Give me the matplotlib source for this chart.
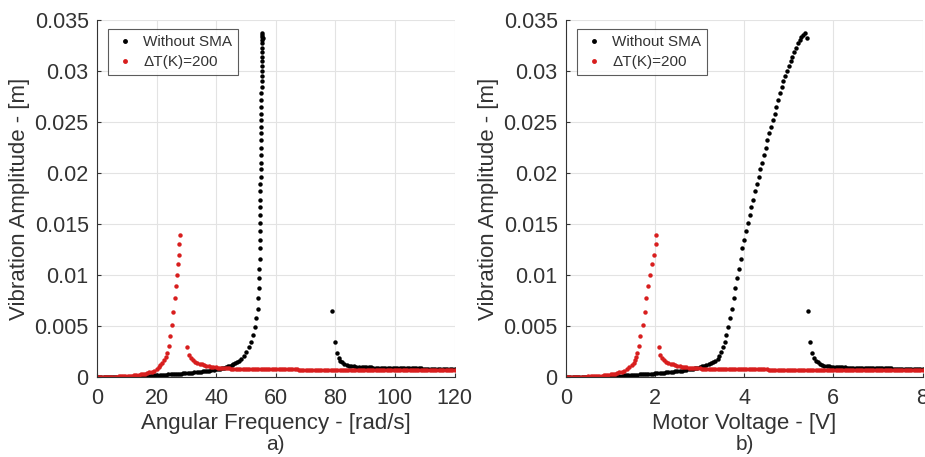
import matplotlib
matplotlib.use("Agg")
import matplotlib.pyplot as plt
from matplotlib.ticker import FuncFormatter

plt.rcParams['font.family'] = ['Liberation Sans', 'DejaVu Sans']

# ================= "Without SMA" (black) =================
black_voltage = [
    0.00, 0.05, 0.10, 0.15, 0.20, 0.25, 0.30, 0.35, 0.40, 0.45, 0.50, 0.55, 0.60, 0.65, 0.70, 0.75, 0.80, 0.85,
    0.90, 0.95, 1.00, 1.05, 1.10, 1.15, 1.20, 1.25, 1.30, 1.35, 1.40, 1.45, 1.50, 1.55, 1.60, 1.65, 1.70, 1.75,
    1.80, 1.85, 1.90, 1.95, 2.00, 2.05, 2.10, 2.15, 2.20, 2.25, 2.30, 2.35, 2.40, 2.45, 2.50, 2.55, 2.60, 2.65,
    2.70, 2.75, 2.80, 2.85, 2.90, 2.95, 3.00, 3.05, 3.10, 3.15, 3.20, 3.25, 3.30, 3.35, 3.40,
    3.44, 3.48, 3.52, 3.56, 3.60, 3.64, 3.68, 3.72, 3.76, 3.80, 3.84, 3.88, 3.92, 3.96,
    4.00, 4.04, 4.08, 4.12, 4.16, 4.20, 4.24, 4.28, 4.32, 4.36, 4.40, 4.44, 4.48, 4.52,
    4.56, 4.60, 4.64, 4.68, 4.72, 4.76, 4.80, 4.84, 4.88, 4.92, 4.96, 5.00, 5.04, 5.08,
    5.12, 5.16, 5.20, 5.24, 5.28, 5.32, 5.36, 5.40,
    5.44, 5.48, 5.52, 5.56, 5.60, 5.65, 5.70, 5.75, 5.80, 5.85, 5.90, 5.95, 6.00,
    6.05, 6.10, 6.15, 6.20, 6.25, 6.30, 6.35, 6.40, 6.45, 6.50, 6.55, 6.60, 6.65, 6.70, 6.75, 6.80, 6.85, 6.90,
    6.95, 7.00, 7.05, 7.10, 7.15, 7.20, 7.25, 7.30, 7.35, 7.40, 7.45, 7.50, 7.55, 7.60, 7.65, 7.70, 7.75, 7.80,
    7.85, 7.90, 7.95, 8.00]
black_freq = [
    0.0, 0.7, 1.5, 2.2, 2.9, 3.6, 4.4, 5.1, 5.8, 6.5, 7.3, 8.0, 8.7, 9.4, 10.2, 10.9, 11.6, 12.3,
    13.1, 13.8, 14.5, 15.2, 16.0, 16.7, 17.4, 18.1, 18.9, 19.6, 20.3, 21.0, 21.8, 22.5, 23.2, 23.9, 24.7, 25.4,
    26.1, 26.8, 27.6, 28.3, 29.0, 29.7, 30.5, 31.2, 31.9, 32.6, 33.4, 34.1, 34.8, 35.5, 36.3, 37.0, 37.7, 38.4,
    39.2, 39.9, 40.6, 41.3, 42.0, 42.7, 43.3, 44.0, 44.6, 45.2, 45.8, 46.4, 47.0, 47.7, 48.4,
    49.2, 50.0, 50.9, 51.7, 52.4, 53.0, 53.5, 53.9, 54.1, 54.3, 54.4, 54.5, 54.6, 54.65,
    54.7, 54.72, 54.75, 54.78, 54.8, 54.82, 54.85, 54.87, 54.9, 54.92, 54.95, 54.97, 55.0, 55.02,
    55.05, 55.07, 55.1, 55.12, 55.15, 55.17, 55.2, 55.22, 55.25, 55.27, 55.3, 55.32, 55.35, 55.37,
    55.4, 55.42, 55.45, 55.47, 55.5, 55.52, 55.55, 55.6,
    79.0, 80.0, 80.6, 81.1, 81.6, 82.3, 83.0, 83.8, 84.6, 85.4, 86.2, 87.1, 88.0,
    88.8, 89.6, 90.4, 91.2, 92.0, 92.8, 93.6, 94.4, 95.2, 96.0, 96.8, 97.6, 98.4, 99.2, 100.0, 100.8, 101.6, 102.4,
    103.2, 104.0, 104.8, 105.6, 106.4, 107.2, 108.0, 108.8, 109.6, 110.4, 111.2, 112.0, 112.8, 113.6, 114.4, 115.2,
    116.0, 116.8, 117.6, 118.4, 119.2, 120.0]
black_amp = [
    0.0, 0.0, 0.0, 0.0, 0.0, 0.0, 0.0, 0.0, 0.0, 0.0, 0.0, 0.0,
    0.00001, 0.00001, 0.00002, 0.00002, 0.00003, 0.00004, 0.00005, 0.00006, 0.00007, 0.00008, 0.00009, 0.00010,
    0.00012, 0.00013, 0.00015, 0.00016, 0.00018, 0.00019, 0.00021, 0.00022, 0.00024, 0.00025, 0.00027, 0.00028,
    0.00030, 0.00031, 0.00033, 0.00034, 0.00036, 0.00038, 0.00040, 0.00042, 0.00044, 0.00046, 0.00048, 0.00050,
    0.00052, 0.00054, 0.00057, 0.00060, 0.00063, 0.00066, 0.00070, 0.00074, 0.00078, 0.00082, 0.00087, 0.00092,
    0.00097, 0.00103, 0.00110, 0.00117, 0.00125, 0.00134, 0.00145, 0.00160, 0.00180,
    0.0021, 0.0025, 0.0029, 0.0034, 0.0041, 0.0049, 0.0058, 0.0067, 0.0077, 0.0087, 0.0097, 0.0106, 0.0116, 0.0126,
    0.0134, 0.0143, 0.0151, 0.0159, 0.0167, 0.0174, 0.0182, 0.0189, 0.0196, 0.0204, 0.0210, 0.0218, 0.0225, 0.0232,
    0.0239, 0.0245, 0.0252, 0.0258, 0.0265, 0.0272, 0.0278, 0.0284, 0.0290, 0.0295, 0.0300, 0.0305, 0.0310, 0.0314,
    0.0319, 0.0323, 0.0327, 0.0330, 0.0333, 0.0335, 0.0337, 0.0332,
    0.0065, 0.0034, 0.0024, 0.0019, 0.0016, 0.00145, 0.0013, 0.0012, 0.00112, 0.00107, 0.00104, 0.00101, 0.00098,
    0.00097, 0.00096, 0.00095, 0.00094, 0.00094, 0.00093, 0.00093, 0.00092, 0.00092, 0.00091, 0.00091, 0.00090,
    0.00090, 0.00089, 0.00089, 0.00088, 0.00088, 0.00087, 0.00087, 0.00086, 0.00086, 0.00085, 0.00085, 0.00085,
    0.00084, 0.00084, 0.00083, 0.00083, 0.00083, 0.00083, 0.00082, 0.00082, 0.00082, 0.00082, 0.00081, 0.00081,
    0.00081, 0.00081, 0.00080, 0.00080]

# ================= "dT(K)=200" (red) =================
red_voltage = [
    0.00, 0.05, 0.10, 0.15, 0.20, 0.25, 0.30, 0.35, 0.40, 0.45, 0.50, 0.55, 0.60, 0.65, 0.70, 0.75, 0.80, 0.85,
    0.90, 0.95, 1.00, 1.05, 1.10, 1.15, 1.20, 1.25, 1.30,
    1.36, 1.42, 1.47, 1.52, 1.55, 1.58, 1.60, 1.63, 1.66, 1.72, 1.765, 1.80, 1.845, 1.88, 1.92, 1.97, 2.01, 2.03,
    2.08, 2.12, 2.16,
    2.20, 2.25, 2.30, 2.35, 2.40, 2.45, 2.50, 2.55, 2.60, 2.65, 2.70, 2.75, 2.80, 2.85, 2.90, 2.95, 3.00, 3.05,
    3.10, 3.15, 3.20, 3.25, 3.30, 3.35, 3.40, 3.45, 3.50, 3.55, 3.60, 3.65, 3.70, 3.75, 3.80, 3.85, 3.90, 3.95,
    4.00, 4.05, 4.10, 4.15, 4.20, 4.25, 4.30, 4.35, 4.40, 4.45, 4.50, 4.55, 4.60, 4.65, 4.70, 4.75, 4.80, 4.85,
    4.90, 4.95, 5.00, 5.05, 5.10, 5.15, 5.20, 5.25, 5.30, 5.35, 5.40, 5.45, 5.50, 5.55, 5.60, 5.65, 5.70, 5.75,
    5.80, 5.85, 5.90, 5.95, 6.00, 6.05, 6.10, 6.15, 6.20, 6.25, 6.30, 6.35, 6.40, 6.45, 6.50, 6.55, 6.60, 6.65,
    6.70, 6.75, 6.80, 6.85, 6.90, 6.95, 7.00, 7.05, 7.10, 7.15, 7.20, 7.25, 7.30, 7.35, 7.40, 7.45, 7.50, 7.55,
    7.60, 7.65, 7.70, 7.75, 7.80, 7.85, 7.90, 7.95, 8.00]
red_freq = [
    0.0, 0.7, 1.5, 2.2, 2.9, 3.7, 4.4, 5.1, 5.9, 6.6, 7.3, 8.1, 8.8, 9.5, 10.3, 11.0, 11.7, 12.5,
    13.2, 14.0, 14.7, 15.4, 16.2, 16.9, 17.6, 18.4, 19.1,
    20.0, 20.8, 21.3, 21.8, 22.5, 23.2, 23.6, 24.2, 24.5, 25.1, 25.6, 26.1, 26.4, 26.7, 27.1, 27.4, 27.6, 27.9,
    30.3, 31.0, 31.6,
    32.2, 33.0, 33.7, 34.5, 35.2, 36.0, 36.7, 37.5, 38.3, 39.0, 39.8, 40.5, 41.3, 42.0, 42.8, 43.6, 44.3, 45.1,
    45.8, 46.6, 47.3, 48.1, 48.9, 49.6, 50.4, 51.1, 51.9, 52.6, 53.4, 54.2, 54.9, 55.7, 56.4, 57.2, 57.9, 58.7,
    59.5, 60.2, 61.0, 61.7, 62.5, 63.2, 64.0, 64.8, 65.5, 66.3, 67.0, 67.8, 68.5, 69.3, 70.1, 70.8, 71.6, 72.3,
    73.1, 73.8, 74.6, 75.3, 76.1, 76.9, 77.6, 78.4, 79.1, 79.9, 80.6, 81.4, 82.2, 82.9, 83.7, 84.4, 85.2, 85.9,
    86.7, 87.5, 88.2, 89.0, 89.7, 90.5, 91.2, 92.0, 92.8, 93.5, 94.3, 95.0, 95.8, 96.5, 97.3, 98.1, 98.8, 99.6,
    100.3, 101.1, 101.8, 102.6, 103.4, 104.1, 104.9, 105.6, 106.4, 107.1, 107.9, 108.7, 109.4, 110.2, 110.9,
    111.7, 112.4, 113.2, 113.9, 114.7, 115.5, 116.2, 117.0, 117.7, 118.5, 119.3, 120.0]
red_amp = [
    0.0, 0.0, 0.0, 0.0, 0.0, 0.00001, 0.00001, 0.00002, 0.00003, 0.00004, 0.00005, 0.00006, 0.00007, 0.00008,
    0.00010, 0.00012, 0.00014, 0.00016, 0.00019, 0.00022, 0.00025, 0.00029, 0.00033, 0.00039, 0.00045, 0.00053,
    0.00062,
    0.0008, 0.0010, 0.0012, 0.0014, 0.0017, 0.0020, 0.0024, 0.0030, 0.0040, 0.0051, 0.0064, 0.0077, 0.0089,
    0.0100, 0.0111, 0.0120, 0.0130, 0.0139,
    0.0029, 0.0022, 0.0019,
    0.0017, 0.0015, 0.0014, 0.0013, 0.00124, 0.00117, 0.0011, 0.00106, 0.00102, 0.00099, 0.00096, 0.00093,
    0.00091, 0.00089, 0.00087, 0.00085, 0.00084, 0.00083, 0.00081, 0.00080, 0.00079, 0.00079, 0.00078, 0.00078,
    0.00077, 0.00077, 0.00076,
    0.00075, 0.00075, 0.00075, 0.00075, 0.00075, 0.00075, 0.00075, 0.00075, 0.00075, 0.00075,
    0.00074, 0.00074, 0.00074, 0.00074, 0.00074, 0.00074, 0.00074, 0.00074, 0.00074, 0.00074,
    0.00073, 0.00073, 0.00073, 0.00073, 0.00073, 0.00073, 0.00073, 0.00073, 0.00073, 0.00073,
    0.00072, 0.00072, 0.00072, 0.00072, 0.00072, 0.00072, 0.00072, 0.00072, 0.00072, 0.00072,
    0.00071, 0.00071, 0.00071, 0.00071, 0.00071, 0.00071, 0.00071, 0.00071, 0.00071, 0.00071,
    0.00070, 0.00070, 0.00070, 0.00070, 0.00070, 0.00070, 0.00070, 0.00070, 0.00070, 0.00070,
    0.00069, 0.00069, 0.00069, 0.00069, 0.00069, 0.00069, 0.00069, 0.00069, 0.00069, 0.00069,
    0.00068, 0.00068, 0.00068, 0.00068, 0.00068, 0.00068, 0.00068, 0.00068, 0.00068, 0.00068,
    0.00067, 0.00067, 0.00067, 0.00067, 0.00067, 0.00066, 0.00066, 0.00066, 0.00066, 0.00066]

series_labels = ["Without SMA", "\u0394T(K)=200"]
x_labels = ["Angular Frequency - [rad/s]", "Motor Voltage - [V]"]
y_label = "Vibration Amplitude - [m]"
panel_tags = ["a)", "b)"]
x_ticks = [[0, 20, 40, 60, 80, 100, 120], [0, 2, 4, 6, 8]]
y_ticks = [0, 0.005, 0.01, 0.015, 0.02, 0.025, 0.03, 0.035]

BLACK = "#000000"
RED = "#d81e1e"
TXT = "#333333"

fig = plt.figure(figsize=(9.25, 4.57), dpi=100)
W, H = 925, 457
ax_a = fig.add_axes([97 / W, 1 - 377 / H, (454.5 - 97) / W, (377 - 20) / H])
ax_b = fig.add_axes([566 / W, 1 - 377 / H, (922.5 - 566) / W, (377 - 20) / H])

panels = [(ax_a, black_freq, red_freq, (0, 120)), (ax_b, black_voltage, red_voltage, (0, 8))]
for i, (ax, bx, rx, xlim) in enumerate(panels):
    ax.plot(bx, black_amp, linestyle='none', marker='o', ms=3.2, mew=0, color=BLACK, label=series_labels[0])
    ax.plot(rx, red_amp, linestyle='none', marker='o', ms=3.2, mew=0, color=RED, label=series_labels[1])
    ax.set_xlim(*xlim)
    ax.set_ylim(0, 0.035)
    ax.set_xticks(x_ticks[i])
    ax.set_yticks(y_ticks)
    ax.yaxis.set_major_formatter(FuncFormatter(lambda v, p: f"{v:g}"))
    ax.grid(True, color="#e3e3e3", linewidth=0.8)
    ax.set_axisbelow(True)
    for s in ("top", "right"):
        ax.spines[s].set_visible(False)
    for s in ("left", "bottom"):
        ax.spines[s].set_color(TXT)
        ax.spines[s].set_linewidth(0.8)
    ax.tick_params(direction='in', length=3, width=0.8, colors=TXT, labelsize=15.5)
    ax.tick_params(axis='x', pad=8)
    ax.tick_params(axis='y', pad=6)
    ax.set_xlabel(x_labels[i], fontsize=16, color=TXT, labelpad=3)
    ax.set_ylabel(y_label, fontsize=16, color=TXT, labelpad=3)
    leg = ax.legend(loc='upper left', bbox_to_anchor=((108 - 97) / 357.5, (377 - 29) / 357),
                    borderaxespad=0, fontsize=11, frameon=True,
                    fancybox=False, edgecolor=TXT, handlelength=1.4, handletextpad=0.5,
                    borderpad=0.4, labelspacing=0.4, markerscale=1.1)
    leg.get_frame().set_linewidth(0.8)
    for t in leg.get_texts():
        t.set_color(TXT)

fig.text(275 / W, 1 - 444 / H, panel_tags[0], fontsize=15, color=TXT, ha='center', va='center')
fig.text(745 / W, 1 - 444 / H, panel_tags[1], fontsize=15, color=TXT, ha='center', va='center')

fig.savefig("out.png", dpi=100)
